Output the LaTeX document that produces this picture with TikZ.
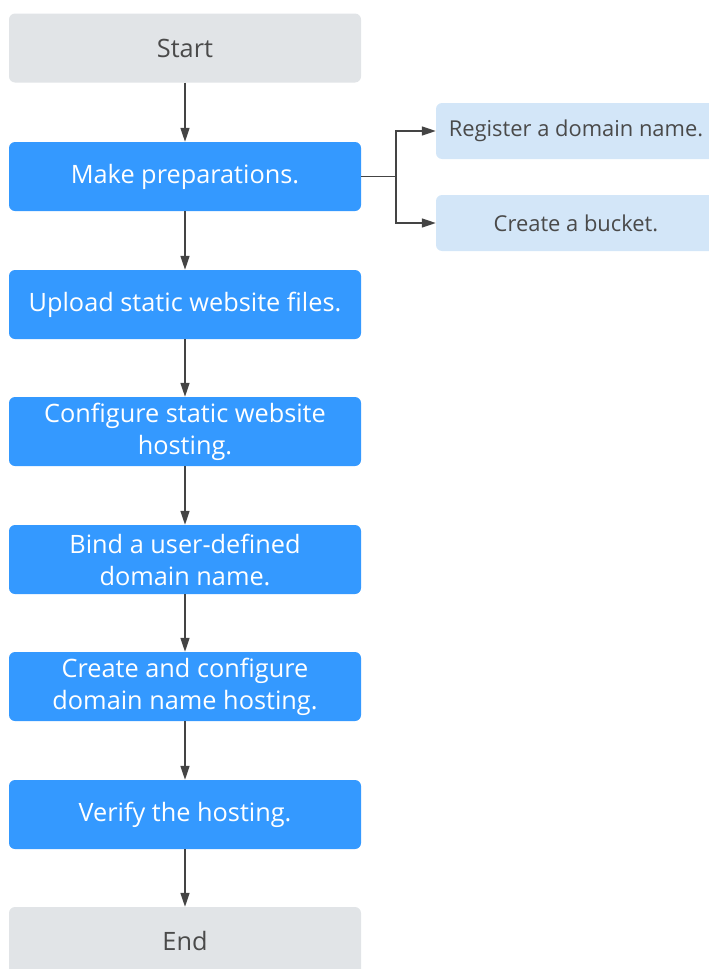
\documentclass[tikz,border=0pt]{standalone}
\usepackage{fontspec}
\setmainfont{Open Sans}
\usetikzlibrary{arrows.meta}
\definecolor{greybox}{HTML}{E1E4E7}
\definecolor{bluebox}{HTML}{3499FF}
\definecolor{lightbox}{HTML}{D3E6F8}
\definecolor{txtgrey}{HTML}{4A4A4A}
\definecolor{linegrey}{HTML}{444444}
\begin{document}
\begin{tikzpicture}[x=1pt,y=-1pt,
  base/.style={rounded corners=6pt, minimum width=352pt, minimum height=69pt, inner sep=0pt, align=center, font=\fontsize{25.3}{32}\selectfont},
  termbox/.style={base, fill=greybox, text=txtgrey},
  stepbox/.style={base, fill=bluebox, text=white},
  subbox/.style={rounded corners=6pt, minimum width=280pt, minimum height=56pt, inner sep=0pt, fill=lightbox, text=txtgrey, font=\fontsize{21.9}{28}\selectfont},
  conn/.style={draw=linegrey, line width=1.5pt, -{Triangle[length=14pt,width=9pt]}}
]
\useasboundingbox (0,0) rectangle (709,969);
\node[termbox] (start) at (185,48) {Start};
\node[stepbox] (prep) at (185,176.5) {Make preparations.};
\node[stepbox] (upload) at (185,304.5) {Upload static website files.};
\node[stepbox] (config) at (185,431.5) {Configure static website\\hosting.};
\node[stepbox] (bind) at (185,559.5) {Bind a user-defined\\domain name.};
\node[stepbox] (dns) at (185,686.5) {Create and configure\\domain name hosting.};
\node[stepbox] (verify) at (185,814.5) {Verify the hosting.};
\node[termbox] (end) at (185,941.5) {End};
\node[subbox] (reg) at (576,131) {Register a domain name.};
\node[subbox] (bucket) at (576,223) {Create a bucket.};
\coordinate (fork) at (396,176.5);
\draw[conn] (start) -- (prep);
\draw[conn] (prep) -- (upload);
\draw[conn] (upload) -- (config);
\draw[conn] (config) -- (bind);
\draw[conn] (bind) -- (dns);
\draw[conn] (dns) -- (verify);
\draw[conn] (verify) -- (end);
\draw[draw=linegrey, line width=1.5pt] (prep.east) -- (fork);
\draw[conn] (fork) |- (reg.west);
\draw[conn] (fork) |- (bucket.west);
\end{tikzpicture}
\end{document}
